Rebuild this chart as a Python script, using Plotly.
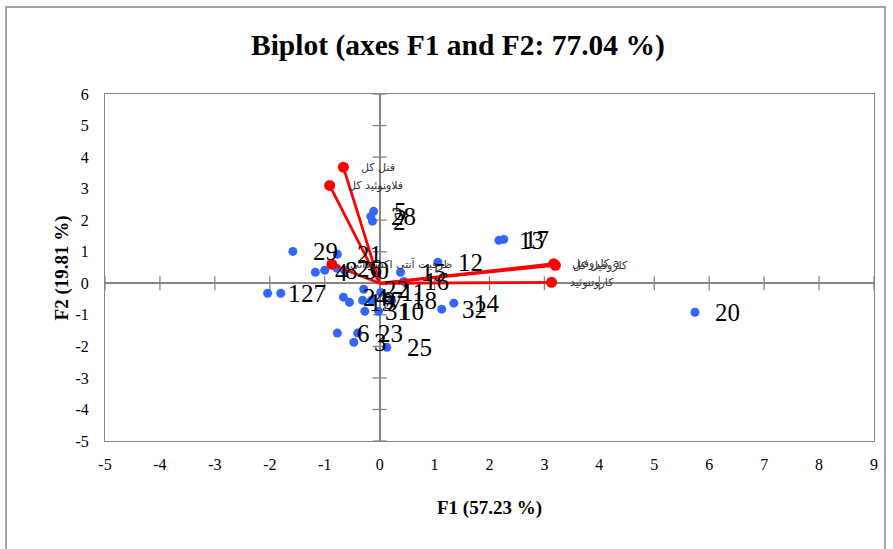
import plotly.graph_objects as go

# Observations (F1, F2)
obs_labels = ["1", "2", "3", "4", "5", "6", "7", "8", "9", "10", "11", "12", "13", "14", "15", "16",
              "17", "18", "19", "20", "21", "22", "23", "24", "25", "26", "27", "28", "29", "30", "31", "32"]
obs_f1 = [-2.04, -0.13, -0.47, -1.17, -0.11, -0.77, -0.15, -1.00, -0.31, -0.02, 0.02, 1.06, 2.17, 1.35, 0.38, 0.44,
          2.26, 0.22, -0.55, 5.74, -0.77, -0.29, -0.40, -0.66, 0.13, -0.78, -1.80, -0.16, -1.58, -0.64, -0.27, 1.13]
obs_f2 = [-0.32, 1.97, -1.87, 0.35, 2.28, -1.58, -0.54, 0.41, -0.54, -0.89, -0.29, 0.67, 1.36, -0.63, 0.35, 0.06,
          1.39, -0.54, -0.60, -0.92, 0.92, -0.19, -1.58, -0.44, -2.03, 0.48, -0.32, 2.12, 1.01, 0.41, -0.89, -0.82]

# Variables (loadings)
var_labels = ["فنل کل", "فلاونوئید کل", "ظرفیت آنتی اکسیدانی", "کلروفیل کل", "کلروفیل a", "کاروتنوئید"]
var_f1 = [-0.66, -0.91, -0.87, 3.20, 3.17, 3.13]
var_f2 = [3.68, 3.10, 0.60, 0.57, 0.62, 0.03]

x_ticks = list(range(-5, 10))
y_ticks = list(range(-5, 7))

title_text = "Biplot (axes F1 and F2: 77.04 %)"
x_title = "F1 (57.23 %)"
y_title = "F2 (19.81 %)"

SERIF = "Liberation Serif, Times New Roman, serif"
ARABIC = "DejaVu Sans, Noto Sans, sans-serif"
GRAY = "#868686"

fig = go.Figure()

# Tick crosses on the zero axes
fig.add_trace(go.Scatter(
    x=[t for t in x_ticks], y=[0] * len(x_ticks), mode="markers",
    marker=dict(symbol="line-ns", size=10, line=dict(color=GRAY, width=1.3)),
    hoverinfo="skip", showlegend=False))
fig.add_trace(go.Scatter(
    x=[0] * len(y_ticks), y=[t for t in y_ticks], mode="markers",
    marker=dict(symbol="line-ew", size=10, line=dict(color=GRAY, width=1.3)),
    hoverinfo="skip", showlegend=False))

# Observations
fig.add_trace(go.Scatter(
    x=obs_f1, y=obs_f2, mode="markers",
    marker=dict(color="#3366FF", size=9),
    showlegend=False))

# Variable vectors
vx, vy = [], []
for a, b in zip(var_f1, var_f2):
    vx += [0, a, None]
    vy += [0, b, None]
fig.add_trace(go.Scatter(x=vx, y=vy, mode="lines",
                         line=dict(color="#FF0000", width=2.8), showlegend=False, hoverinfo="skip"))
fig.add_trace(go.Scatter(x=var_f1, y=var_f2, mode="markers",
                         marker=dict(color="#FF0000", size=11), showlegend=False))

annotations = []
for lab, a, b in zip(obs_labels, obs_f1, obs_f2):
    annotations.append(dict(x=a, y=b, xref="x", yref="y", text=lab, showarrow=False,
                            xanchor="left", yanchor="middle", xshift=18,
                            font=dict(family=SERIF, size=25, color="black")))
for lab, a, b in zip(var_labels, var_f1, var_f2):
    annotations.append(dict(x=a, y=b, xref="x", yref="y", text=lab, showarrow=False,
                            xanchor="left", yanchor="middle", xshift=16,
                            font=dict(family=ARABIC, size=11, color="#333333")))

annotations.append(dict(x=0.459, y=1.14, xref="paper", yref="paper", text="<b>" + title_text + "</b>",
                        showarrow=False, xanchor="center", yanchor="middle",
                        font=dict(family=SERIF, size=29.5, color="black")))
annotations.append(dict(x=0.5, y=-0.193, xref="paper", yref="paper", text="<b>" + x_title + "</b>",
                        showarrow=False, xanchor="center", yanchor="middle",
                        font=dict(family=SERIF, size=19, color="black")))
annotations.append(dict(x=-0.056, y=0.5, xref="paper", yref="paper", text="<b>" + y_title + "</b>",
                        showarrow=False, xanchor="center", yanchor="middle", textangle=-90,
                        font=dict(family=SERIF, size=19, color="black")))

fig.update_layout(
    width=893, height=549,
    margin=dict(l=105, r=19, t=94, b=108),
    paper_bgcolor="white", plot_bgcolor="white",
    showlegend=False,
    annotations=annotations,
    shapes=[dict(type="rect", xref="paper", yref="paper", x0=-0.1287, x1=1.0143, y0=-0.4, y1=1.2507,
                 line=dict(color=GRAY, width=1.5), fillcolor="rgba(0,0,0,0)", layer="below")],
    xaxis=dict(range=[-5, 9], tickmode="array", tickvals=x_ticks, ticktext=[str(t) for t in x_ticks],
               showgrid=False, zeroline=True, zerolinecolor=GRAY, zerolinewidth=1.5,
               showline=True, mirror=True, linecolor=GRAY, linewidth=1, ticks="",
               ticklabelstandoff=9, tickfont=dict(family=SERIF, size=16, color="black")),
    yaxis=dict(range=[-5, 6], tickmode="array", tickvals=y_ticks, ticktext=[str(t) for t in y_ticks],
               showgrid=False, zeroline=True, zerolinecolor=GRAY, zerolinewidth=1.5,
               showline=True, mirror=True, linecolor=GRAY, linewidth=1, ticks="",
               ticklabelstandoff=12, tickfont=dict(family=SERIF, size=16, color="black")),
)

fig.write_html("out.html", config={"displayModeBar": False},
               post_script="document.body.style.margin='0';document.body.style.overflow='hidden';")
